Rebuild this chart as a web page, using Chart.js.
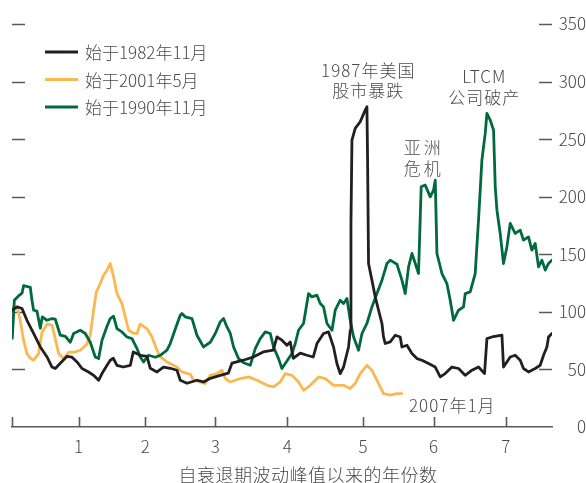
<!DOCTYPE html>
<html lang="zh">
<head>
    <meta charset="UTF-8">
    <title>波动峰值以来</title>
    <style>
        body { margin: 0; background: #ffffff; }
        #wrap { position: relative; width: 586px; height: 483px; }
    </style>
</head>
<body>
    <div id="wrap"><canvas id="myChart"></canvas></div>
    <script src="https://cdn.jsdelivr.net/npm/chart.js"></script>
    <script>
        // x = years since the volatility peak, y = index level
        const seriesNames = ['始于1982年11月', '始于2001年5月', '始于1990年11月']
        const seriesColors = ['#231f20', '#fbb850', '#006a3d']

        const blackX = [0, 0.071, 0.142, 0.212, 0.306, 0.401, 0.496, 0.567, 0.613, 0.684, 0.779, 0.850, 0.921, 0.992,
            1.085, 1.156, 1.227, 1.275, 1.346, 1.392, 1.435, 1.487, 1.576, 1.676, 1.718, 1.817, 1.912, 1.959,
            2.054, 2.147, 2.242, 2.337, 2.384, 2.479, 2.620, 2.714, 2.809, 2.950, 3.064, 3.116, 3.276, 3.418,
            3.559, 3.701, 3.754, 3.824, 3.895, 3.942, 3.984, 4.084, 4.178, 4.268, 4.320, 4.414, 4.484, 4.555,
            4.603, 4.650, 4.697, 4.768, 4.792, 4.802, 4.816, 4.862, 4.933, 5.004, 5.028, 5.037, 5.051, 5.099,
            5.146, 5.193, 5.241, 5.263, 5.288, 5.358, 5.429, 5.500, 5.524, 5.595, 5.666, 5.737, 5.807, 5.901,
            5.996, 6.067, 6.137, 6.232, 6.326, 6.420, 6.516, 6.609, 6.694, 6.728, 6.799, 6.941, 6.963, 7.058,
            7.129, 7.200, 7.246, 7.317, 7.412, 7.483, 7.530, 7.578, 7.601, 7.649]
        const blackY = [101.4, 104.3, 102.9, 92.7, 81.4, 69.5, 60.8, 52.1, 50.8, 55.4, 61.4, 60.6, 56.5, 50.8,
            47.8, 44.9, 40.6, 46.4, 53.6, 58.0, 59.7, 53.6, 52.1, 53.6, 65.2, 62.3, 61.4, 51.0,
            47.8, 52.1, 51.0, 49.3, 40.6, 38.0, 40.6, 39.1, 42.3, 44.9, 46.7, 55.4, 58.0, 60.8,
            65.2, 66.7, 78.2, 75.4, 71.0, 73.9, 59.7, 64.1, 62.3, 60.8, 72.5, 81.2, 82.6, 69.5,
            55.1, 46.4, 52.1, 69.5, 84.0, 177.0, 249.2, 259.3, 265.1, 275.2, 278.1, 234.7, 142.0, 127.5,
            113.0, 101.4, 89.9, 78.2, 72.5, 73.9, 79.7, 78.2, 69.5, 71.0, 63.8, 59.4, 58.0, 55.1,
            52.1, 43.5, 46.4, 52.1, 50.8, 44.9, 49.3, 52.1, 46.4, 76.8, 78.2, 79.7, 52.1, 60.8,
            62.3, 58.0, 50.8, 47.8, 50.8, 53.6, 62.3, 69.5, 78.2, 81.2]

        const orangeX = [0, 0.071, 0.118, 0.164, 0.212, 0.259, 0.306, 0.377, 0.425, 0.496, 0.567, 0.613, 0.660,
            0.731, 0.802, 0.897, 0.967, 1.062, 1.109, 1.156, 1.194, 1.251, 1.297, 1.346, 1.392, 1.439, 1.487,
            1.558, 1.605, 1.652, 1.722, 1.771, 1.817, 1.912, 1.983, 2.054, 2.100, 2.195, 2.337, 2.408, 2.525,
            2.572, 2.667, 2.738, 2.809, 2.904, 2.975, 3.021, 3.092, 3.234, 3.351, 3.470, 3.612, 3.705, 3.800,
            3.871, 3.966, 4.059, 4.130, 4.225, 4.343, 4.438, 4.555, 4.697, 4.792, 4.862, 4.933, 5.028, 5.099,
            5.193, 5.263, 5.358, 5.453, 5.524]
        const orangeY = [104.3, 104.3, 91.9, 75.4, 63.8, 59.7, 58.0, 63.8, 82.3, 89.3, 88.4, 76.8, 63.8,
            59.4, 64.9, 65.2, 66.7, 71.9, 79.7, 101.4, 117.1, 124.6, 131.8, 136.2, 142.0, 130.4, 115.9,
            107.2, 95.6, 84.0, 81.4, 81.2, 89.3, 85.5, 78.2, 66.7, 60.8, 56.5, 52.1, 47.8, 45.8,
            40.6, 39.1, 37.7, 44.9, 46.4, 49.3, 42.1, 39.1, 42.1, 43.5, 40.6, 36.2, 34.8, 39.1,
            46.4, 44.9, 39.1, 31.9, 36.2, 43.5, 42.1, 36.2, 36.2, 33.4, 37.7, 46.4, 53.6, 49.3,
            37.7, 29.0, 27.6, 29.0, 29.0]

        const greenX = [0.004, 0.033, 0.089, 0.142, 0.164, 0.235, 0.259, 0.283, 0.306, 0.354, 0.401, 0.429, 0.496,
            0.567, 0.613, 0.684, 0.755, 0.826, 0.873, 0.967, 1.038, 1.109, 1.180, 1.227, 1.275, 1.346, 1.392,
            1.439, 1.487, 1.558, 1.629, 1.700, 1.771, 1.817, 1.864, 1.935, 2.030, 2.100, 2.195, 2.242, 2.337,
            2.384, 2.408, 2.455, 2.550, 2.620, 2.714, 2.809, 2.880, 2.950, 2.997, 3.045, 3.092, 3.139, 3.210,
            3.280, 3.375, 3.446, 3.517, 3.588, 3.659, 3.705, 3.776, 3.824, 3.871, 3.966, 4.013, 4.059, 4.130,
            4.201, 4.249, 4.320, 4.367, 4.414, 4.462, 4.533, 4.579, 4.650, 4.697, 4.745, 4.792, 4.839, 4.909,
            4.958, 5.028, 5.099, 5.170, 5.241, 5.312, 5.358, 5.453, 5.524, 5.571, 5.618, 5.666, 5.713, 5.759,
            5.797, 5.854, 5.925, 5.972, 5.996, 6.020, 6.091, 6.161, 6.208, 6.255, 6.326, 6.397, 6.421, 6.491,
            6.562, 6.609, 6.657, 6.704, 6.728, 6.775, 6.822, 6.846, 6.870, 6.916, 6.963, 7.011, 7.058, 7.129,
            7.200, 7.246, 7.317, 7.365, 7.412, 7.459, 7.507, 7.554, 7.601, 7.649]
        const greenY = [77.1, 110.1, 113.6, 116.2, 122.7, 121.7, 121.4, 110.1, 101.4, 100.6, 85.8, 95.6, 92.7,
            94.2, 93.6, 79.7, 78.8, 73.6, 81.2, 84.0, 81.2, 73.6, 60.8, 59.4, 75.4, 87.5, 94.2,
            96.2, 85.5, 82.6, 78.2, 76.8, 68.1, 60.8, 56.5, 62.3, 60.6, 62.3, 66.7, 72.5, 89.3,
            97.1, 98.6, 95.6, 94.2, 79.7, 69.5, 73.6, 81.2, 91.3, 94.2, 86.9, 81.4, 69.5, 59.4,
            55.8, 53.6, 68.1, 76.8, 82.6, 81.2, 69.5, 59.4, 50.8, 55.1, 63.8, 72.5, 84.0, 89.9,
            115.9, 113.0, 114.5, 107.2, 104.3, 89.9, 84.0, 101.4, 110.1, 107.2, 111.6, 92.7, 78.2, 66.7,
            81.2, 89.9, 104.3, 115.9, 127.5, 142.0, 144.9, 141.4, 127.5, 115.9, 139.1, 150.7, 142.0, 133.3,
            208.6, 210.1, 199.9, 205.7, 214.4, 150.7, 133.3, 124.6, 110.1, 92.7, 101.4, 104.3, 115.9, 117.3,
            133.3, 179.6, 231.8, 255.0, 272.4, 266.5, 257.9, 208.6, 188.3, 168.1, 142.0, 156.4, 176.8, 168.1,
            171.0, 162.3, 165.1, 153.6, 159.4, 139.1, 144.9, 136.2, 142.0, 144.9]

        // year ticks sit at uneven spots along the axis
        const xTickPos = [0.943, 1.888, 2.880, 3.899, 4.972, 5.972, 6.997]
        const xTickLabels = ['1', '2', '3', '4', '5', '6', '7']
        const yTicks = [0, 50, 100, 150, 200, 250, 300, 350]
        const xTitle = '自衰退期波动峰值以来的年份数'

        const notes = [
            { text: '1987年美国', x: 5.047, y: 310 },
            { text: '股市暴跌', x: 5.047, y: 292.5 },
            { text: '亚洲', x: 5.833, y: 243, spacing: 3 },
            { text: '危机', x: 5.833, y: 224.5, spacing: 3 },
            { text: 'LTCM', x: 6.690, y: 304 },
            { text: '公司破产', x: 6.690, y: 286 },
            { text: '2007年1月', x: 6.237, y: 18.5 }
        ]

        const FONT = "'Noto Sans CJK SC', 'Noto Sans', sans-serif"
        const TEXT = '#4a4a4a'
        const MARK = '#5a5a5a'

        const pts = (xs, ys) => xs.map((x, i) => ({ x: x, y: ys[i] }))

        const marks = {
            id: 'marks',
            beforeDatasetsDraw(chart) {
                const { ctx, chartArea: a, scales } = chart
                ctx.save()
                ctx.strokeStyle = MARK
                ctx.lineWidth = 1.6
                ctx.beginPath()
                yTicks.slice(1).forEach(v => {
                    const py = Math.round(scales.y.getPixelForValue(v)) + 0.5
                    ctx.moveTo(a.left, py); ctx.lineTo(a.left + 13, py)
                    ctx.moveTo(a.right - 13, py); ctx.lineTo(a.right, py)
                })
                ;[0].concat(xTickPos).forEach(v => {
                    const px = Math.round(scales.x.getPixelForValue(v)) + 0.5
                    ctx.moveTo(px, a.bottom - 10); ctx.lineTo(px, a.bottom)
                })
                ctx.stroke()
                ctx.restore()
            },
            afterDraw(chart) {
                const { ctx, chartArea: a, scales } = chart
                ctx.save()
                ctx.fillStyle = TEXT
                ctx.textBaseline = 'middle'
                ctx.font = '300 17px ' + FONT
                // legend
                seriesNames.forEach((name, i) => {
                    const py = 52 + i * 27.5
                    ctx.strokeStyle = seriesColors[i]
                    ctx.lineWidth = 3
                    ctx.beginPath()
                    ctx.moveTo(a.left + 33, py); ctx.lineTo(a.left + 66, py)
                    ctx.stroke()
                    ctx.textAlign = 'left'
                    ctx.fillText(name, a.left + 73, py + 1)
                })
                // notes
                ctx.textAlign = 'center'
                notes.forEach(n => {
                    ctx.letterSpacing = (n.spacing || 1) + 'px'
                    ctx.fillText(n.text, scales.x.getPixelForValue(n.x), scales.y.getPixelForValue(n.y))
                })
                // axis title, sits right of the plot centre in the original
                ctx.letterSpacing = '0.5px'
                ctx.font = '300 18px ' + FONT
                ctx.fillText(xTitle, 308, 475)
                ctx.restore()
            }
        }

        const ctx = document.getElementById('myChart')
        const myChart = new Chart(ctx, {
            type: 'line',
            data: {
                datasets: [
                    { label: seriesNames[0], data: pts(blackX, blackY), borderColor: seriesColors[0], order: 0 },
                    { label: seriesNames[1], data: pts(orangeX, orangeY), borderColor: seriesColors[1], order: 2 },
                    { label: seriesNames[2], data: pts(greenX, greenY), borderColor: seriesColors[2], order: 1 }
                ]
            },
            options: {
                responsive: true,
                maintainAspectRatio: false,
                animation: false,
                layout: { padding: { left: 12, top: 24, right: 0, bottom: 0 } },
                elements: {
                    point: { radius: 0 },
                    line: { borderWidth: 2.8, tension: 0, borderJoinStyle: 'round', borderCapStyle: 'round' }
                },
                plugins: { legend: { display: false }, tooltip: { enabled: false } },
                scales: {
                    x: {
                        type: 'linear',
                        min: 0,
                        max: 7.65,
                        afterBuildTicks: s => { s.ticks = xTickPos.map(v => ({ value: v })) },
                        afterFit: s => { s.height = 56 },
                        grid: { display: false, drawTicks: false },
                        border: { display: true, color: MARK, width: 1.6 },
                        ticks: {
                            autoSkip: false,
                            maxRotation: 0,
                            padding: 9,
                            color: TEXT,
                            font: { family: FONT, size: 17, weight: '300' },
                            callback: (v, i) => xTickLabels[i]
                        }
                    },
                    y: {
                        position: 'right',
                        min: 0,
                        max: 350,
                        afterBuildTicks: s => { s.ticks = yTicks.map(v => ({ value: v })) },
                        afterFit: s => { s.width = 34 },
                        grid: { display: false, drawTicks: false },
                        border: { display: false },
                        ticks: {
                            crossAlign: 'far',
                            padding: 5,
                            color: TEXT,
                            font: { family: FONT, size: 17, weight: '300' }
                        }
                    }
                }
            },
            plugins: [marks]
        })
    </script>
</body>
</html>
